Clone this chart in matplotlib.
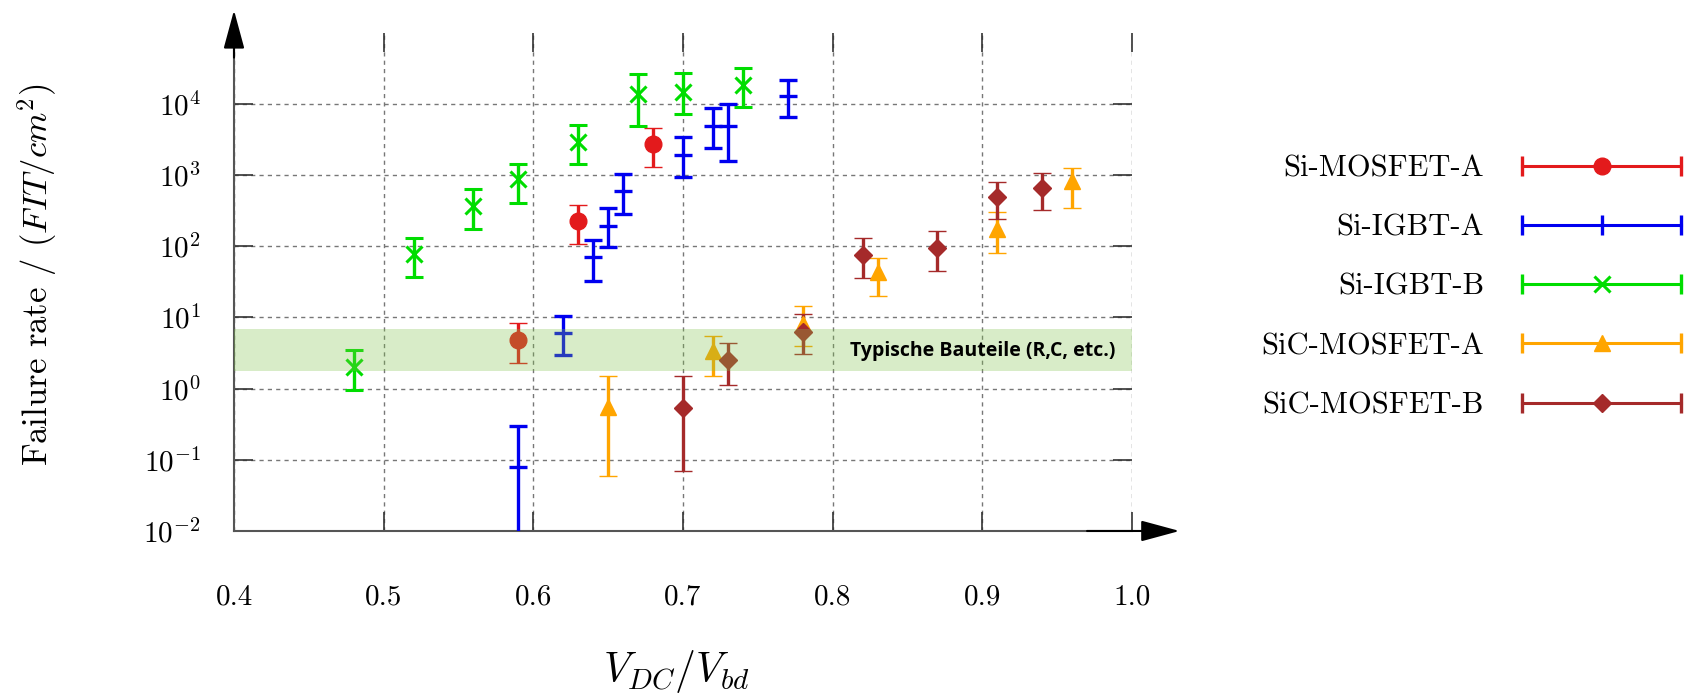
import matplotlib
matplotlib.use("Agg")
import matplotlib.pyplot as plt
from matplotlib.lines import Line2D
from matplotlib.legend_handler import HandlerBase

plt.rcParams['mathtext.fontset'] = 'cm'
plt.rcParams['font.family'] = 'cmr10'
plt.rcParams['axes.unicode_minus'] = False
plt.rcParams['axes.formatter.use_mathtext'] = True

# data (x = V_DC/V_bd, y = FIT/cm^2, lo/hi = error bar ends)
mos_a_x = [0.59, 0.63, 0.68]
mos_a_y = [4.8, 225, 2700]
mos_a_lo = [2.3, 107, 1290]
mos_a_hi = [8.4, 385, 4600]

igbt_a_x = [0.59, 0.62, 0.64, 0.65, 0.66, 0.70, 0.72, 0.73, 0.77]
igbt_a_y = [0.079, 6.1, 71, 190, 590, 1940, 4960, 4870, 12800]
igbt_a_lo = [0.001, 3.0, 33, 96, 280, 940, 2400, 1570, 6640]
igbt_a_hi = [0.30, 10.4, 123, 340, 1020, 3400, 8800, 10000, 21300]

igbt_b_x = [0.48, 0.52, 0.56, 0.59, 0.63, 0.67, 0.70, 0.74]
igbt_b_y = [2.0, 79, 363, 870, 2900, 13800, 14600, 18700]
igbt_b_lo = [0.95, 37, 174, 400, 1450, 4900, 7200, 9100]
igbt_b_hi = [3.5, 132, 630, 1450, 5000, 26000, 27000, 32000]

sic_a_x = [0.65, 0.72, 0.78, 0.83, 0.91, 0.96]
sic_a_y = [0.55, 3.4, 8.0, 44, 175, 820]
sic_a_lo = [0.06, 1.5, 4.0, 20, 81, 345]
sic_a_hi = [1.48, 5.5, 14.4, 69, 300, 1260]

sic_b_x = [0.70, 0.73, 0.78, 0.82, 0.87, 0.91, 0.94]
sic_b_y = [0.54, 2.5, 6.3, 76, 95, 490, 650]
sic_b_lo = [0.07, 1.14, 3.1, 36, 45, 245, 325]
sic_b_hi = [1.52, 4.4, 11, 130, 163, 800, 1070]

band_lo, band_hi = 1.75, 6.8
band_label = 'Typische Bauteile (R,C, etc.)'

x_ticks = [0.4, 0.5, 0.6, 0.7, 0.8, 0.9, 1.0]
x_labels = ['0.4', '0.5', '0.6', '0.7', '0.8', '0.9', '1.0']
y_ticks = [1e-2, 1e-1, 1e0, 1e1, 1e2, 1e3, 1e4]
y_labels = [r'$10^{-2}$', r'$10^{-1}$', r'$10^{0}$', r'$10^{1}$',
            r'$10^{2}$', r'$10^{3}$', r'$10^{4}$']

series = [
    ('Si-MOSFET-A', mos_a_x, mos_a_y, mos_a_lo, mos_a_hi, '#e31a1c', 'o', 'o', 12, 1),
    ('Si-IGBT-A', igbt_a_x, igbt_a_y, igbt_a_lo, igbt_a_hi, '#0000f0', '_', '|', 13, 2.4),
    ('Si-IGBT-B', igbt_b_x, igbt_b_y, igbt_b_lo, igbt_b_hi, '#00dd00', 'x', 'x', 12, 2.2),
    ('SiC-MOSFET-A', sic_a_x, sic_a_y, sic_a_lo, sic_a_hi, '#ffa500', '^', '^', 11, 1),
    ('SiC-MOSFET-B', sic_b_x, sic_b_y, sic_b_lo, sic_b_hi, '#a52a2a', 'D', 'D', 9, 1),
]


class HBarHandler(HandlerBase):
    # horizontal error bar with caps, marker in the middle
    def create_artists(self, legend, orig, xd, yd, w, h, fs, trans):
        y = h / 2 - yd
        x0, x1 = -xd, w - xd
        c = orig.get_color()
        bar = Line2D([x0, x1], [y, y], color=c, lw=2.2)
        caps = Line2D([x0, x1], [y, y], ls='none', marker='|', ms=14,
                      mew=2.4, color=c)
        mid = Line2D([(x0 + x1) / 2], [y], ls='none', marker=orig.get_marker(),
                     ms=orig.get_markersize(), mew=orig.get_markeredgewidth(),
                     color=c)
        for a in (bar, caps, mid):
            a.set_transform(trans)
        return [bar, caps, mid]


fig = plt.figure(figsize=(16.92, 6.95), dpi=100)
ax = fig.add_axes([0.1383, 0.236, 0.5307, 0.717])
ax.set_yscale('log')
ax.set_xlim(0.4, 1.0)
ax.set_ylim(1e-2, 1e5)

handles = []
for name, xs, ys, lo, hi, col, mk, lmk, ms, mew in series:
    yerr = [[y - l for y, l in zip(ys, lo)], [h - y for y, h in zip(ys, hi)]]
    ax.errorbar(xs, ys, yerr=yerr, fmt=mk, color=col, ms=ms, mew=mew,
                elinewidth=2.4, capsize=6.5, capthick=2.4, zorder=3)
    handles.append(Line2D([], [], color=col, marker=lmk,
                          ms=(14 if lmk == '|' else ms), mew=mew))

ax.axhspan(band_lo, band_hi, color=(126 / 255, 195 / 255, 73 / 255),
           alpha=0.3, lw=0, zorder=5)
ax.text(0.9, 3.4, band_label, ha='center', va='center',
        fontfamily='Open Sans', fontweight='bold', fontsize=14,
        zorder=6)

ax.set_xticks(x_ticks)
ax.set_xticklabels(x_labels)
ax.set_yticks(y_ticks)
ax.set_yticklabels(y_labels)
ax.minorticks_off()
ax.tick_params(axis='both', direction='in', length=13.5, width=1.2,
               color='#333333', top=True, right=True, labelsize=21)
ax.tick_params(axis='x', pad=38)
ax.tick_params(axis='y', pad=24)
ax.grid(True, ls=(0, (3, 3)), color='#777777', lw=1)

for s in ('top', 'right'):
    ax.spines[s].set_visible(False)
for s in ('left', 'bottom'):
    ax.spines[s].set_color('#555555')
    ax.spines[s].set_linewidth(1.5)

arrow = dict(arrowstyle='-|>,head_length=24,head_width=6.5', color='black',
             lw=1.5, shrinkA=0, shrinkB=0, mutation_scale=1)
ax.annotate('', xy=(0, 1.045), xytext=(0, 0.95), xycoords='axes fraction',
            arrowprops=arrow, annotation_clip=False)
ax.annotate('', xy=(1.053, 0), xytext=(0.95, 0), xycoords='axes fraction',
            arrowprops=arrow, annotation_clip=False)

ax.set_ylabel('Failure rate / $(FIT/cm^2)$', fontsize=25)
ax.yaxis.set_label_coords(-0.195, 0.513)
ax.set_xlabel('$V_{DC}/V_{bd}$', fontsize=30)
ax.xaxis.set_label_coords(0.493, -0.235)

fig.legend(handles, [s[0] for s in series], handler_map={Line2D: HBarHandler()},
           loc='upper right', bbox_to_anchor=(1681 / 1692, 1 - 155 / 695),
           frameon=False, markerfirst=False, handlelength=5.2,
           handletextpad=1.25, labelspacing=1.04, fontsize=22,
           borderpad=0, borderaxespad=0)

fig.savefig('out.png', dpi=100)
